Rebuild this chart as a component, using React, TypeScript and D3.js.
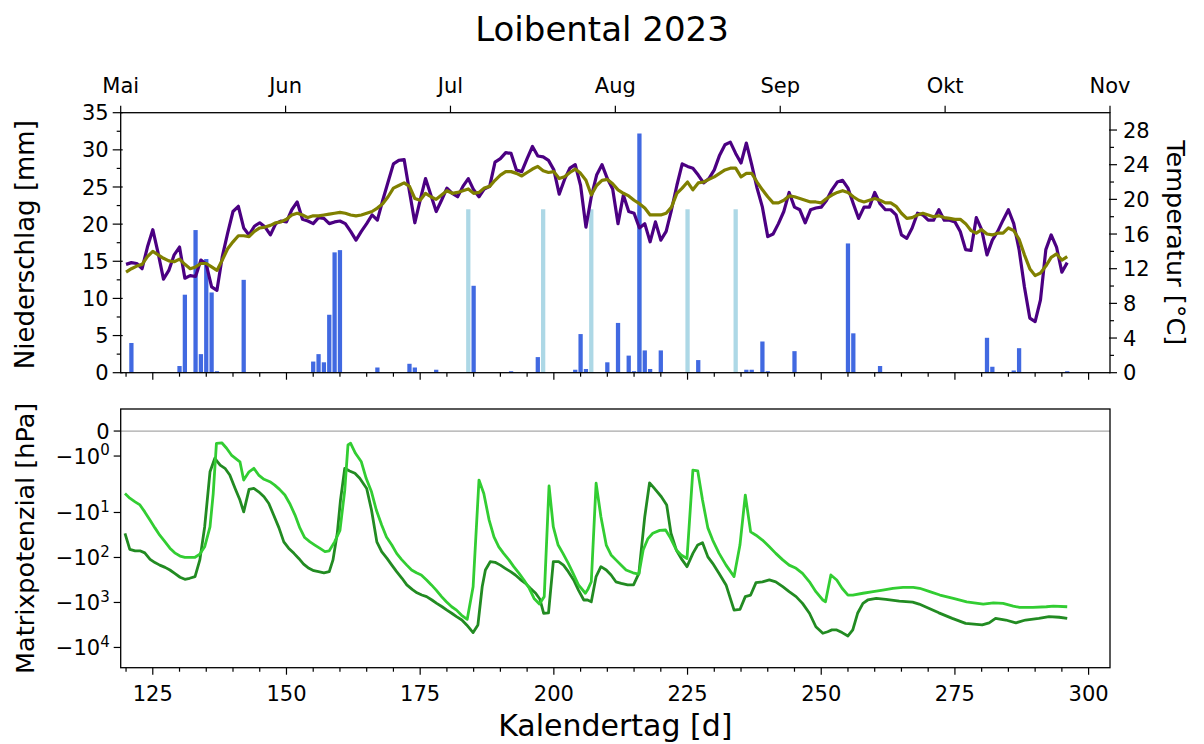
import { useEffect, useRef } from 'react'
import * as d3 from 'd3'

// daily temperature series, day 120 .. 296
const START_DAY = 120
const tempDaily = [
  12.5, 12.7, 12.6, 12.0, 14.5, 16.5, 13.8, 10.8, 11.8, 13.6,
  14.5, 10.9, 11.2, 11.1, 13.0, 12.5, 9.9, 9.5, 13.4, 16.1,
  18.6, 19.2, 16.7, 15.9, 16.9, 17.3, 16.8, 15.9, 17.2, 17.5,
  17.4, 18.8, 19.7, 17.7, 17.5, 17.2, 17.9, 17.8, 17.2, 17.4,
  17.5, 17.2, 16.3, 15.3, 16.3, 17.2, 18.2, 17.6, 19.9, 22.0,
  24.1, 24.5, 24.6, 20.9, 17.3, 19.9, 22.4, 20.5, 18.6, 19.9,
  21.3, 20.7, 20.3, 21.5, 22.4, 21.1, 20.3, 21.2, 21.5, 24.3,
  24.7, 25.4, 25.3, 23.4, 23.2, 24.7, 26.1, 25.0, 24.9, 24.5,
  23.4, 20.6, 22.3, 23.6, 24.0, 21.6, 16.8, 20.3, 22.8, 24.0,
  22.4, 21.2, 17.2, 20.5, 18.6, 18.4, 16.7, 17.2, 15.1, 17.4,
  15.3, 16.3, 18.8, 21.6, 24.1, 23.8, 23.6, 22.8, 21.9, 22.4,
  23.4, 25.1, 26.3, 26.6, 25.3, 24.2, 26.5, 24.0, 21.3, 19.1,
  15.7, 16.0, 17.2, 18.6, 20.8, 19.1, 18.8, 17.3, 18.8, 19.0,
  19.1, 19.9, 21.1, 22.0, 22.2, 21.3, 19.5, 17.8, 19.1, 19.1,
  20.8, 19.5, 18.8, 18.8, 18.2, 15.9, 15.5, 16.7, 18.4, 18.2,
  17.6, 17.6, 18.8, 17.6, 17.6, 17.4, 16.3, 14.2, 14.1, 17.9,
  16.5, 13.6, 15.3, 16.3, 17.6, 18.8, 17.2, 14.2, 9.9, 6.3,
  5.9, 8.4, 14.2, 15.9, 14.5, 11.6, 12.7,
]
const tempMean = [
  11.6, 12.0, 12.3, 12.5, 13.4, 14.0, 13.6, 13.2, 12.9, 12.8,
  13.1, 12.5, 12.0, 12.2, 12.6, 12.6, 12.2, 11.8, 13.0, 14.3,
  15.1, 15.8, 15.8, 15.7, 16.3, 16.7, 16.8, 17.0, 17.3, 17.4,
  17.7, 18.2, 18.4, 18.2, 17.9, 18.1, 18.1, 18.2, 18.3, 18.4,
  18.5, 18.4, 18.2, 18.1, 18.2, 18.4, 18.6, 19.0, 19.5, 20.3,
  21.3, 21.6, 21.9, 21.5, 20.1, 19.9, 20.7, 20.3, 20.0, 20.5,
  21.0, 20.7, 20.8, 21.0, 21.2, 20.7, 20.8, 21.3, 21.5, 22.2,
  22.8, 23.2, 23.2, 23.0, 22.7, 23.1, 23.5, 23.8, 23.3, 23.1,
  23.2, 22.4, 22.6, 23.1, 23.5, 23.0, 22.2, 20.5, 21.6, 22.2,
  22.3, 21.8, 21.1, 20.7, 20.4, 19.9, 19.5, 19.0, 18.2, 18.2,
  18.2, 18.4, 19.1, 20.7, 21.3, 22.0, 21.1, 21.9, 22.0, 22.3,
  22.6, 23.0, 23.4, 23.6, 23.6, 22.6, 23.0, 23.0, 22.0, 21.1,
  20.3, 19.6, 19.6, 19.9, 20.4, 20.3, 20.1, 19.9, 19.7, 19.7,
  19.6, 20.1, 20.5, 20.8, 21.0, 20.8, 20.3, 19.9, 19.7, 19.9,
  20.1, 19.9, 19.6, 19.6, 19.2, 18.4, 17.8, 17.9, 18.2, 18.4,
  18.2, 18.0, 18.1, 17.9, 17.8, 17.7, 17.7, 17.2, 16.4, 16.1,
  16.5, 16.0, 15.9, 16.1, 16.1, 16.7, 16.4, 15.4, 13.6, 12.0,
  11.2, 11.5, 12.3, 13.3, 13.7, 13.0, 13.4,
]

// precipitation
const rainDays = [121, 125, 130, 131, 133, 134, 135, 136, 137, 142, 155, 156, 157, 158, 159, 160,
  167, 173, 174, 178, 185, 192, 197, 204, 205, 206, 210, 212, 214, 215, 216, 217, 218, 220,
  227, 236, 237, 239, 240, 245, 255, 256, 261, 281, 282, 286, 287, 296]
const rainMm = [4.0, 0.1, 0.9, 10.5, 19.2, 2.5, 15.3, 10.8, 0.2, 12.5, 1.5, 2.5, 1.4, 7.8, 16.2, 16.5,
  0.7, 1.2, 0.7, 0.4, 11.7, 0.2, 2.1, 0.4, 5.2, 0.5, 1.4, 6.7, 2.3, 0.2, 32.2, 3.0, 0.5, 3.0,
  1.7, 0.4, 0.4, 4.2, 0.2, 2.9, 17.4, 5.3, 0.9, 4.7, 0.8, 0.3, 3.3, 0.2]
const irrigDays = [184, 198, 207, 216, 225, 234]
const irrigMm = [22, 22, 22, 22, 22, 22]

// matric potential [hPa]
const lightDays = [119.8, 120.7, 121.7, 122.6, 123.5, 124.5, 125.4, 126.3, 127.3, 128.2, 129.1, 130.1,
  131.0, 131.9, 132.9, 133.8, 134.7, 135.7, 136.3, 136.9, 137.9, 138.8, 139.7, 140.7, 141.3, 142.0,
  143.0, 143.9, 144.8, 145.8, 146.9, 147.8, 148.7, 149.7, 150.6, 151.6, 152.5, 153.4, 154.4, 155.3,
  156.2, 157.2, 158.0, 159.0, 160.0, 160.9, 161.5, 162.0, 162.9, 164.0, 164.9, 165.9, 166.8, 167.8,
  168.7, 169.7, 170.6, 171.5, 172.5, 173.4, 174.3, 175.2, 176.2, 177.1, 178.0, 179.0, 179.9, 180.9,
  181.8, 182.7, 183.8, 184.9, 186.0, 186.9, 187.9, 188.8, 189.7, 190.6, 191.6, 192.5, 193.5, 194.4,
  195.4, 196.3, 197.3, 198.2, 199.1, 199.9, 200.8, 201.7, 202.7, 203.6, 204.6, 205.9, 206.4, 207.0,
  207.9, 208.8, 209.8, 210.7, 211.6, 212.6, 213.5, 214.8, 215.9, 216.7, 217.6, 218.5, 219.8, 220.9,
  221.7, 222.9, 223.8, 224.9, 226.0, 226.9, 227.8, 228.8, 229.7, 230.9, 232.2, 233.7, 234.8, 235.8,
  236.8, 237.8, 239.0, 240.3, 241.5, 242.8, 244.0, 245.3, 246.5, 247.8, 249.0, 250.3, 250.8, 251.8,
  252.9, 253.9, 255.0, 255.9, 257.8, 259.7, 261.5, 263.4, 265.3, 267.2, 268.4, 270.3, 272.2, 274.7,
  277.2, 280.3, 282.2, 284.0, 285.9, 287.1, 289.6, 292.1, 293.4, 296.0]
const lightHpa = [-3.8, -4.8, -5.8, -6.8, -9.7, -14.8, -22, -32, -45, -62, -79, -93,
  -99, -100, -99, -84, -58, -21, -3.8, -0.49, -0.47, -0.69, -0.96, -1.13, -1.23, -1.96,
  -1.63, -1.49, -1.76, -1.93, -2.07, -2.46, -3.06, -4.1, -6.3, -11.4, -22, -36, -45, -53,
  -62, -74, -71, -45, -25, -3.2, -0.56, -0.49, -0.89, -1.23, -1.89, -3.47, -8.8, -19,
  -35, -53, -81, -110, -148, -190, -219, -245, -316, -407, -531, -742, -966, -1245,
  -1479, -1905, -2372, -447, -1.96, -3.8, -14.8, -35, -58, -81, -113, -160, -226, -316,
  -484, -813, -1084, -742, -2.57, -21, -53, -81, -135, -226, -407, -624, -500, -347,
  -2.24, -12.4, -53, -88, -113, -148, -190, -219, -234, -68, -38, -29, -25, -24.5,
  -35, -68, -88, -105, -1.56, -1.59, -5.3, -22, -41, -81, -148, -266, -53, -4.1,
  -27, -32, -41, -58, -81, -113, -148, -174, -226, -347, -576, -881, -966, -245,
  -316, -484, -684, -684, -624, -576, -531, -484, -462, -462, -484, -576, -684, -813,
  -966, -1084, -1020, -1047, -1200, -1290, -1290, -1245, -1200, -1245]

const darkDays = [119.8, 120.7, 121.7, 122.6, 123.5, 124.5, 125.4, 126.3, 127.3, 128.2, 129.1, 130.1,
  131.0, 131.9, 132.9, 133.8, 134.7, 135.7, 136.6, 137.6, 138.5, 139.4, 140.4, 141.3, 142.0, 143.0,
  143.9, 144.8, 145.8, 146.7, 147.6, 148.6, 149.5, 150.4, 151.4, 152.3, 153.2, 154.2, 155.1, 156.0,
  157.0, 158.0, 158.7, 159.5, 160.1, 160.9, 161.8, 162.8, 163.7, 165.0, 165.9, 166.9, 167.8, 168.8,
  169.7, 170.6, 171.6, 172.5, 173.5, 174.4, 175.3, 176.2, 177.2, 178.1, 179.1, 180.0, 180.9, 181.8,
  182.8, 183.7, 184.9, 185.8, 186.6, 187.2, 188.1, 189.0, 190.0, 190.9, 191.9, 192.8, 193.7, 194.7,
  195.6, 196.6, 197.4, 198.1, 199.0, 199.9, 200.9, 201.8, 202.7, 203.7, 204.6, 205.6, 206.3, 207.0,
  207.9, 208.8, 209.8, 210.7, 211.6, 212.6, 213.8, 214.9, 215.9, 217.0, 217.9, 218.8, 220.1, 221.1,
  221.9, 222.9, 223.8, 224.9, 226.0, 226.9, 227.8, 228.8, 229.7, 230.9, 232.2, 233.7, 234.8, 235.8,
  236.8, 237.8, 239.0, 240.3, 241.5, 242.8, 244.0, 245.3, 246.5, 247.8, 249.0, 250.3, 251.2, 252.0,
  252.9, 253.9, 255.0, 255.9, 256.8, 257.8, 258.7, 260.3, 262.1, 264.6, 267.1, 268.3, 270.2, 272.0,
  274.5, 277.0, 280.1, 281.4, 282.6, 284.5, 286.4, 288.2, 290.7, 292.6, 294.5, 296.0]
const darkHpa = [-29, -66, -71, -71, -79, -110, -130, -148, -166, -190, -226, -275,
  -305, -290, -266, -113, -21, -1.63, -1.09, -1.36, -1.49, -1.76, -2.92, -5.3, -9.7, -3.06,
  -2.92, -3.47, -4.47, -6.3, -11.4, -22, -45, -62, -81, -105, -140, -174, -197, -207,
  -219, -207, -113, -29, -5.3, -1.49, -1.6, -1.69, -1.89, -2.92, -8.8, -45, -74, -105,
  -148, -207, -290, -407, -513, -610, -684, -742, -881, -1047, -1245, -1479, -1738, -2065,
  -2455, -3162, -4677, -3162, -447, -190, -124, -128, -148, -174, -207, -245, -305, -376,
  -484, -624, -851, -1738, -1700, -124, -124, -148, -207, -316, -531, -881, -881, -966,
  -266, -160, -190, -245, -347, -376, -407, -407, -226, -12.4, -2.19, -2.92, -4.47, -6.8,
  -29, -68, -105, -160, -81, -53, -47, -97, -135, -226, -407, -1479, -1430, -742,
  -684, -363, -347, -316, -347, -447, -576, -742, -1047, -1738, -3467, -4842, -4467, -4074,
  -4074, -4677, -5559, -4074, -1738, -1047, -881, -813, -851, -930, -985, -1084, -1362, -1700,
  -2260, -2924, -3162, -2830, -2260, -2455, -2830, -2455, -2260, -2065, -2130, -2260]

const monthLabels = ['Mai', 'Jun', 'Jul', 'Aug', 'Sep', 'Okt', 'Nov']
const rainTicks = [0, 5, 10, 15, 20, 25, 30, 35]
const tempTicks = [0, 4, 8, 12, 16, 20, 24, 28]
const potTicks = [0, -1, -10, -100, -1000, -10000]
const dayTicks = [125, 150, 175, 200, 225, 250, 275, 300]

// matplotlib style symlog, linthresh 2, linscale 1
const LINTHRESH = 2
const LINSCALE = 1 / (1 - 1 / 10)
function symlog(v: number) {
  const a = Math.abs(v)
  const t = a <= LINTHRESH ? a * LINSCALE : LINTHRESH * (LINSCALE + Math.log10(a / LINTHRESH))
  return Math.sign(v) * t
}

export default function App() {
  const svgRef = useRef<SVGSVGElement>(null)

  useEffect(() => {
    if (!svgRef.current) return
    const width = 1204
    const height = 744
    const left = 120.7
    const right = 1110
    const top1 = 112.7
    const bot1 = 372.7
    const top2 = 409
    const bot2 = 667.7
    const font = 'DejaVu Sans, sans-serif'
    const tickSize = '21px'

    const svg = d3.select(svgRef.current)
    svg.selectAll('*').remove()
    svg.attr('width', width).attr('height', height)

    const x = d3.scaleLinear().domain([119, 304]).range([left, right])
    const yRain = d3.scaleLinear().domain([0, 35]).range([bot1, top1])
    const yTemp = d3.scaleLinear().domain([0, 30]).range([bot1, top1])
    const yLin = d3.scaleLinear().domain([-10.52, 0.98]).range([bot2, top2])
    const yPot = (v: number) => yLin(symlog(v))

    svg.append('rect').attr('width', width).attr('height', height).attr('fill', '#fff')

    // Title
    svg.append('text')
      .attr('x', 602).attr('y', 41)
      .attr('text-anchor', 'middle')
      .style('font-family', font).style('font-size', '34px')
      .text('Loibental 2023')

    const tick = (g: any, x1: number, y1: number, x2: number, y2: number) =>
      g.append('line').attr('x1', x1).attr('y1', y1).attr('x2', x2).attr('y2', y2)
        .attr('stroke', '#000').attr('stroke-width', 1.2)

    // ---------- top panel ----------
    const top = svg.append('g')
    const barW = x(0.8) - x(0)

    top.selectAll('.irrig')
      .data(irrigDays)
      .enter().append('rect')
      .attr('x', d => x(d) - barW / 2)
      .attr('y', (d, i) => yRain(irrigMm[i]))
      .attr('width', barW)
      .attr('height', (d, i) => yRain(0) - yRain(irrigMm[i]))
      .attr('fill', '#add8e6')

    top.selectAll('.rain')
      .data(rainDays)
      .enter().append('rect')
      .attr('x', d => x(d) - barW / 2)
      .attr('y', (d, i) => yRain(rainMm[i]))
      .attr('width', barW)
      .attr('height', (d, i) => yRain(0) - yRain(rainMm[i]))
      .attr('fill', '#4169e1')

    const tempLine = d3.line<number>()
      .x((d, i) => x(START_DAY + i))
      .y(d => yTemp(d))

    top.append('path').datum(tempDaily)
      .attr('fill', 'none').attr('stroke', '#4b0082').attr('stroke-width', 3.2)
      .attr('stroke-linejoin', 'round').attr('d', tempLine)
    top.append('path').datum(tempMean)
      .attr('fill', 'none').attr('stroke', '#808000').attr('stroke-width', 3.2)
      .attr('stroke-linejoin', 'round').attr('d', tempLine)

    top.append('rect')
      .attr('x', left).attr('y', top1).attr('width', right - left).attr('height', bot1 - top1)
      .attr('fill', 'none').attr('stroke', '#000').attr('stroke-width', 1.3)

    // left axis (rain)
    rainTicks.forEach(v => {
      tick(top, left - 8, yRain(v), left + 2, yRain(v))
      top.append('text')
        .attr('x', left - 12).attr('y', yRain(v)).attr('dy', '0.36em')
        .attr('text-anchor', 'end')
        .style('font-family', font).style('font-size', tickSize)
        .text(v)
    })
    d3.range(2.5, 35, 5).forEach(v => tick(top, left - 4, yRain(v), left, yRain(v)))

    // right axis (temperature)
    tempTicks.forEach(v => {
      tick(top, right - 1, yTemp(v), right + 7, yTemp(v))
      top.append('text')
        .attr('x', right + 13).attr('y', yTemp(v)).attr('dy', '0.36em')
        .style('font-family', font).style('font-size', tickSize)
        .text(v)
    })
    d3.range(2, 30, 4).forEach(v => tick(top, right, yTemp(v), right + 4, yTemp(v)))

    // bottom ticks of top panel (shared x)
    d3.range(120, 301, 5).forEach(d => tick(top, x(d), bot1, x(d), bot1 + (d % 25 === 0 ? 7 : 4)))

    // month axis on top
    const monthPos = d3.range(monthLabels.length).map(i => 119 + i * (304 - 119) / (monthLabels.length - 1))
    monthPos.forEach((d, i) => {
      tick(top, x(d), top1, x(d), top1 - 7)
      top.append('text')
        .attr('x', x(d)).attr('y', 93)
        .attr('text-anchor', 'middle')
        .style('font-family', font).style('font-size', tickSize)
        .text(monthLabels[i])
    })

    top.append('text')
      .attr('transform', `translate(34, ${(top1 + bot1) / 2 + 2}) rotate(-90)`)
      .attr('text-anchor', 'middle')
      .style('font-family', font).style('font-size', '26px')
      .text('Niederschlag [mm]')

    top.append('text')
      .attr('transform', `translate(1167, ${(top1 + bot1) / 2}) rotate(90)`)
      .attr('text-anchor', 'middle')
      .style('font-family', font).style('font-size', '25.5px')
      .text('Temperatur [°C]')

    // ---------- bottom panel ----------
    const bot = svg.append('g')

    bot.append('line')
      .attr('x1', left).attr('x2', right)
      .attr('y1', yPot(0)).attr('y2', yPot(0))
      .attr('stroke', '#a8a8a8').attr('stroke-width', 1.2)

    const potLine = (days: number[]) => d3.line<number>()
      .x((d, i) => x(days[i]))
      .y(d => yPot(d))

    bot.append('path').datum(darkHpa)
      .attr('fill', 'none').attr('stroke', '#228b22').attr('stroke-width', 2.8)
      .attr('stroke-linejoin', 'round').attr('d', potLine(darkDays))
    bot.append('path').datum(lightHpa)
      .attr('fill', 'none').attr('stroke', '#32cd32').attr('stroke-width', 2.8)
      .attr('stroke-linejoin', 'round').attr('d', potLine(lightDays))

    bot.append('rect')
      .attr('x', left).attr('y', top2).attr('width', right - left).attr('height', bot2 - top2)
      .attr('fill', 'none').attr('stroke', '#000').attr('stroke-width', 1.3)

    potTicks.forEach(v => {
      tick(bot, left - 7, yPot(v), left, yPot(v))
      const t = bot.append('text')
        .attr('x', left - 11).attr('y', yPot(v)).attr('dy', '0.36em')
        .attr('text-anchor', 'end')
        .style('font-family', font).style('font-size', tickSize)
      if (v === 0) {
        t.text('0')
      } else {
        t.append('tspan').text('\u221210')
        t.append('tspan')
          .attr('dy', '-0.55em').style('font-size', '15px')
          .text(Math.round(Math.log10(-v)))
      }
    })

    d3.range(120, 301, 5).forEach(d => tick(bot, x(d), bot2, x(d), bot2 + (d % 25 === 0 ? 7 : 4)))
    dayTicks.forEach(d => {
      bot.append('text')
        .attr('x', x(d)).attr('y', 701)
        .attr('text-anchor', 'middle')
        .style('font-family', font).style('font-size', tickSize)
        .text(d)
    })

    bot.append('text')
      .attr('x', (left + right) / 2).attr('y', 736)
      .attr('text-anchor', 'middle')
      .style('font-family', font).style('font-size', '30px')
      .text('Kalendertag [d]')

    bot.append('text')
      .attr('transform', `translate(34, ${(top2 + bot2) / 2}) rotate(-90)`)
      .attr('text-anchor', 'middle')
      .style('font-family', font).style('font-size', '25.5px')
      .text('Matrixpotenzial [hPa]')
  }, [])

  return (
    <svg ref={svgRef} style={{ position: 'absolute', left: 0, top: 0, display: 'block' }}></svg>
  )
}
